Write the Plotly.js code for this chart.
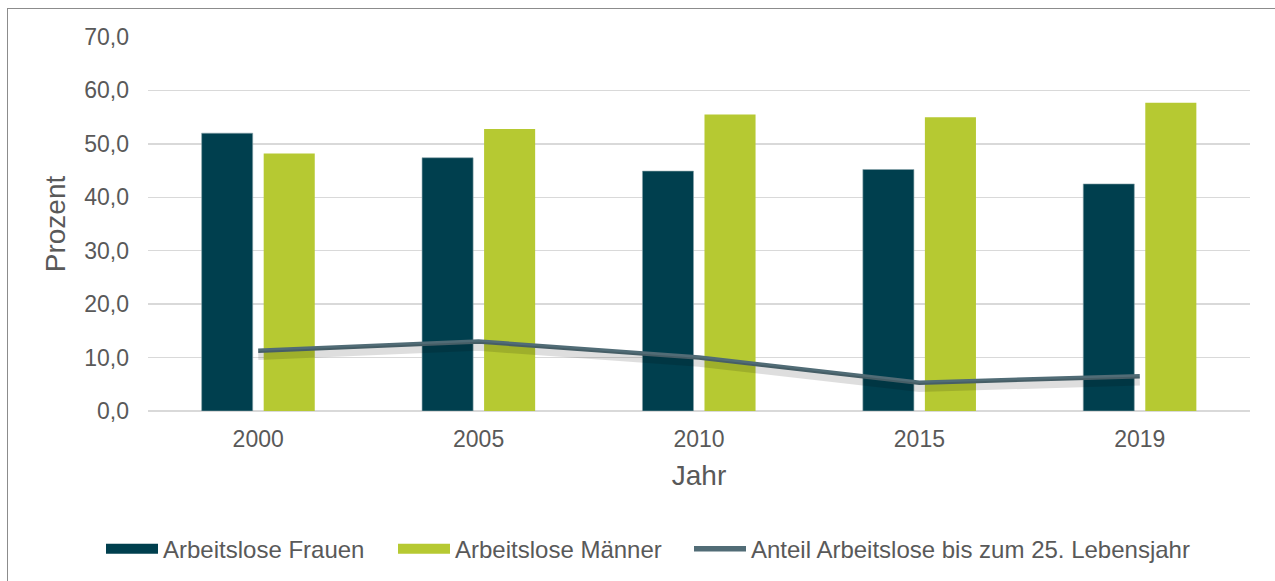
<!DOCTYPE html>
<html>
<head>
<meta charset="utf-8">
<script src="https://cdn.plot.ly/plotly-3.0.1.min.js"></script>
<style>
  html, body { margin: 0; padding: 0; background: #ffffff; overflow: hidden; }
  #frame { position: absolute; left: 7px; top: 8px; width: 1300px; height: 620px;
           border: 1.5px solid #8c8c8c; box-sizing: border-box; }
  #chart { position: absolute; left: 0; top: 0; width: 1275px; height: 581px; }
</style>
</head>
<body>
<div id="frame"></div>
<div id="chart"></div>
<script>
// ---- data ----
const years = ["2000", "2005", "2010", "2015", "2019"];
const frauen = [52.0, 47.4, 44.9, 45.2, 42.5];
const maenner = [48.2, 52.8, 55.5, 55.0, 57.7];
const anteilU25 = [11.3, 13.0, 10.0, 5.3, 6.5];
const yTicks = [0, 10, 20, 30, 40, 50, 60, 70];

const seriesNames = ["Arbeitslose Frauen", "Arbeitslose Männer", "Anteil Arbeitslose bis zum 25. Lebensjahr"];
const colFrauen = "#003f4e";
const colMaenner = "#b6c932";
const colLine = "#516c76";

const traces = [
  { type: "bar", x: years, y: frauen, name: seriesNames[0], showlegend: false,
    marker: { color: colFrauen, line: { color: "#8aa4ab", width: 0.6 } }, hoverinfo: "y+name" },
  { type: "bar", x: years, y: maenner, name: seriesNames[1], showlegend: false,
    marker: { color: colMaenner }, hoverinfo: "y+name" },
  // soft shadow of the line (drawn on an overlay axis shifted a little)
  { type: "scatter", mode: "lines", x: years, y: anteilU25, yaxis: "y2", showlegend: false,
    hoverinfo: "skip", line: { color: "rgba(0,0,0,0.13)", width: 9 } },
  { type: "scatter", mode: "lines", x: years, y: anteilU25, name: seriesNames[2], showlegend: false,
    line: { color: colLine, width: 4.5 }, hoverinfo: "y+name" },
  // legend entries
  { type: "scatter", mode: "lines", x: [null], y: [null], name: seriesNames[0], legend: "legend",
    line: { color: colFrauen, width: 12 } },
  { type: "scatter", mode: "lines", x: [null], y: [null], name: seriesNames[1], legend: "legend2",
    line: { color: colMaenner, width: 12 } },
  { type: "scatter", mode: "lines", x: [null], y: [null], name: seriesNames[2], legend: "legend3",
    line: { color: colLine, width: 5.5 } }
];

function legendAt(px) {
  return {
    orientation: "h", xref: "container", x: px / 1275, xanchor: "left",
    yref: "container", y: 0.055, yanchor: "middle", bgcolor: "rgba(0,0,0,0)",
    font: { size: 24, color: "#595959" }, itemwidth: 52,
    itemclick: false, itemdoubleclick: false
  };
}

const layout = {
  width: 1275, height: 581,
  margin: { l: 148, r: 25, t: 37, b: 170 },
  paper_bgcolor: "rgba(0,0,0,0)",
  plot_bgcolor: "rgba(0,0,0,0)",
  separators: ",.",
  font: { family: "Liberation Sans, Arial, sans-serif", color: "#595959", size: 23 },
  barmode: "group",
  bargap: 0.437,
  bargroupgap: 0.177,
  showlegend: true,
  legend: legendAt(101),
  legend2: legendAt(393),
  legend3: legendAt(689),
  xaxis: {
    type: "category", showgrid: false, zeroline: false, showline: false, ticks: "",
    tickfont: { size: 23, color: "#595959" }, ticklabelstandoff: 12,
    title: { text: "Jahr", font: { size: 28, color: "#595959" }, standoff: 14 }
  },
  yaxis: {
    range: [0, 70], tickvals: yTicks, tickformat: ".1f", showgrid: true,
    gridcolor: "#d9d9d9", gridwidth: 1.5, zeroline: true, zerolinecolor: "#d9d9d9", zerolinewidth: 1.5,
    showline: false, ticks: "", tickfont: { size: 23, color: "#595959" }, ticklabelstandoff: 18,
    title: { text: "Prozent", font: { size: 28, color: "#595959" }, standoff: 10 }
  },
  yaxis2: { overlaying: "y", range: [0.9, 70.9], visible: false, fixedrange: true }
};

Plotly.newPlot("chart", traces, layout, { displayModeBar: false, staticPlot: true });
</script>
</body>
</html>
